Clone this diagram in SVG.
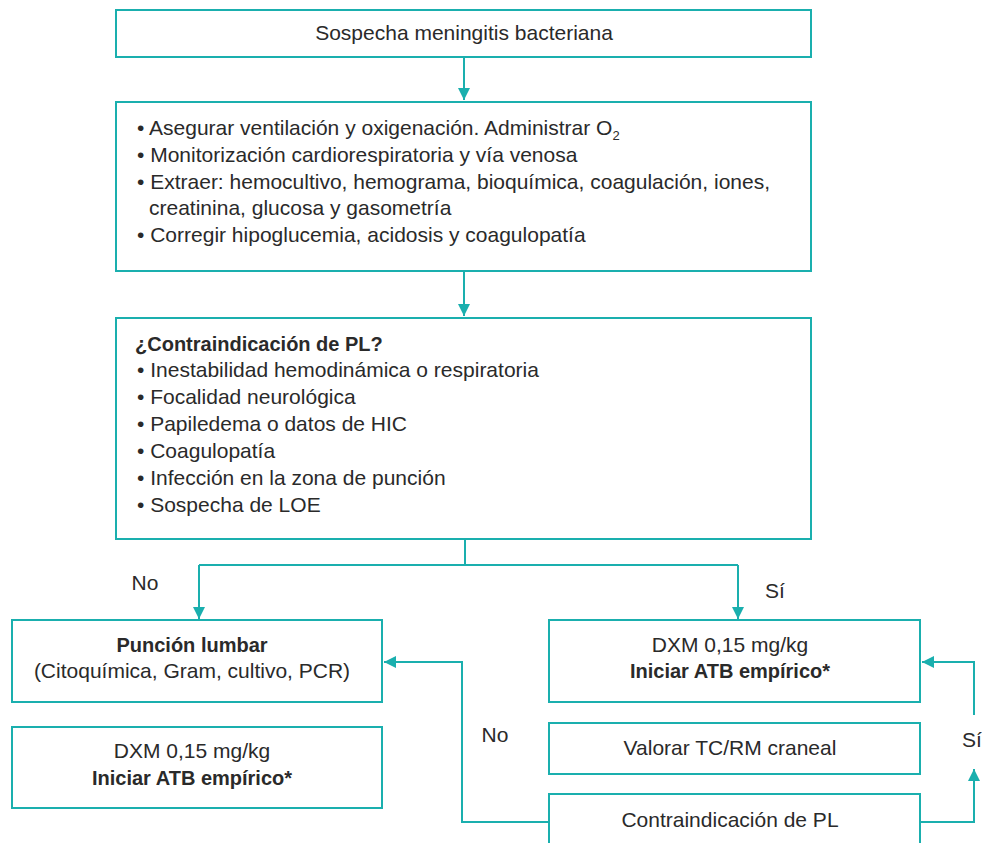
<svg xmlns="http://www.w3.org/2000/svg" width="982" height="843" viewBox="0 0 982 843">
<style>
.box{fill:#fff;stroke:#1aafae;stroke-width:2}
.ln{fill:none;stroke:#1aafae;stroke-width:2}
.t{font-family:"Liberation Sans",Arial,sans-serif;font-size:21px;fill:#2a2a2a}
.c{text-anchor:middle}
.b{font-weight:bold;font-size:20px}
</style>
<defs>
<marker id="ah" viewBox="0 0 12 12" refX="12" refY="6" markerWidth="12" markerHeight="12" markerUnits="userSpaceOnUse" orient="auto">
<path d="M0,0 L12,6 L0,12 Z" fill="#1aafae"/>
</marker>
</defs>
<rect width="982" height="843" fill="#fff"/>
<g id="connectors">
<path class="ln" d="M464,57 V100" marker-end="url(#ah)"/>
<path class="ln" d="M464,271 V316" marker-end="url(#ah)"/>
<path class="ln" d="M465,539 V565 M199,565 H738"/>
<path class="ln" d="M199,565 V619" marker-end="url(#ah)"/>
<path class="ln" d="M738,565 V619" marker-end="url(#ah)"/>
<path class="ln" d="M549,822 H462 V662 H384" marker-end="url(#ah)"/>
<path class="ln" d="M920,822 H974 V769" marker-end="url(#ah)"/>
<path class="ln" d="M974,715 V662 H922" marker-end="url(#ah)"/>
<text class="t c" x="145" y="590">No</text>
<text class="t c" x="775" y="598">Sí</text>
<text class="t c" x="495" y="742">No</text>
<text class="t c" x="972" y="747">Sí</text>
</g>
<g id="n1">
<rect class="box" x="116" y="10" width="695" height="47"/>
<text class="t c" x="464" y="40">Sospecha meningitis bacteriana</text>
</g>
<g id="n2">
<rect class="box" x="116" y="102" width="695" height="169"/>
<text class="t" x="137" y="135">• Asegurar ventilación y oxigenación. Administrar O<tspan font-size="13" dy="5">2</tspan></text>
<text class="t" x="137" y="162">• Monitorización cardiorespiratoria y vía venosa</text>
<text class="t" x="137" y="189">• Extraer: hemocultivo, hemograma, bioquímica, coagulación, iones,</text>
<text class="t" x="149" y="215">creatinina, glucosa y gasometría</text>
<text class="t" x="137" y="242">• Corregir hipoglucemia, acidosis y coagulopatía</text>
</g>
<g id="n3">
<rect class="box" x="116" y="318" width="695" height="221"/>
<text class="t b" x="135" y="351">¿Contraindicación de PL?</text>
<text class="t" x="137" y="377">• Inestabilidad hemodinámica o respiratoria</text>
<text class="t" x="137" y="404">• Focalidad neurológica</text>
<text class="t" x="137" y="431">• Papiledema o datos de HIC</text>
<text class="t" x="137" y="458">• Coagulopatía</text>
<text class="t" x="137" y="485">• Infección en la zona de punción</text>
<text class="t" x="137" y="512">• Sospecha de LOE</text>
</g>
<g id="n4">
<rect class="box" x="12" y="620" width="370" height="82"/>
<text class="t c b" x="192" y="652">Punción lumbar</text>
<text class="t c" x="192" y="678">(Citoquímica, Gram, cultivo, PCR)</text>
</g>
<g id="n5">
<rect class="box" x="12" y="727" width="370" height="81"/>
<text class="t c" x="192" y="758">DXM 0,15 mg/kg</text>
<text class="t c b" x="192" y="785">Iniciar ATB empírico*</text>
</g>
<g id="n6">
<rect class="box" x="549" y="620" width="371" height="82"/>
<text class="t c" x="730" y="652">DXM 0,15 mg/kg</text>
<text class="t c b" x="730" y="678">Iniciar ATB empírico*</text>
</g>
<g id="n7">
<rect class="box" x="549" y="723" width="371" height="51"/>
<text class="t c" x="730" y="755">Valorar TC/RM craneal</text>
</g>
<g id="n8">
<rect class="box" x="549" y="794" width="371" height="60"/>
<text class="t c" x="730" y="827">Contraindicación de PL</text>
</g>
</svg>
